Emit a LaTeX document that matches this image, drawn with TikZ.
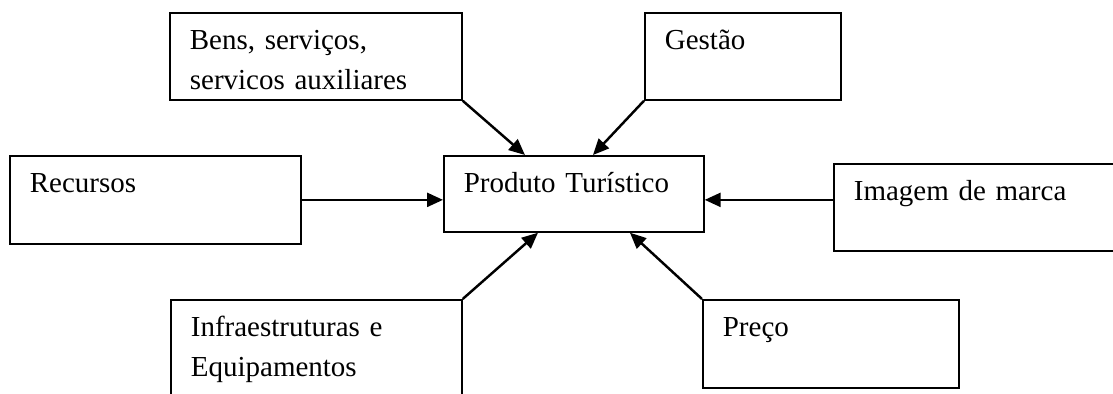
\documentclass[tikz,border=0pt]{standalone}
\usepackage{fontspec}
\setmainfont{Liberation Serif}
\usetikzlibrary{arrows.meta,positioning}

\begin{document}
\begin{tikzpicture}[x=0.02cm,y=-0.02cm,
    caixa/.style={draw,line width=1pt,rectangle,anchor=north west,align=left,
      inner xsep=0.4cm,inner ysep=0pt,text height=0.74cm,
      font=\fontsize{16.5pt}{22.7pt}\selectfont},
    seta/.style={line width=1.4pt,-{Triangle[length=0.32cm,width=0.28cm]}}]
  \clip (0,0) rectangle (1113,394);

  % 方框
  \node[caixa,text width=4.4cm,text depth=0.78cm] (produto) at (443,155) {Produto Turístico};
  \node[caixa,text width=5.04cm,text depth=1.0cm] (bens) at (169,12) {Bens, serviços,\\servicos auxiliares};
  \node[caixa,text width=3.12cm,text depth=1.0cm] (gestao) at (644,12) {Gestão};
  \node[caixa,text width=5.02cm,text depth=1.02cm] (recursos) at (9,155) {Recursos};
  \node[caixa,text width=5.04cm,text depth=1.0cm] (imagem) at (833,163) {Imagem de marca};
  \node[caixa,text width=5.02cm,text depth=1.48cm] (infra) at (170,299) {Infraestruturas e\\Equipamentos};
  \node[caixa,text width=4.32cm,text depth=1.02cm] (preco) at (702,299) {Preço};

  % 箭头
  \draw[seta] (bens.south east) -- ([xshift=1.64cm]produto.north west);
  \draw[seta] (gestao.south west) -- ([xshift=3.0cm]produto.north west);
  \draw[seta] (recursos.east) -- (recursos.east -| produto.west);
  \draw[seta] (imagem.west |- recursos.east) -- (produto.east |- recursos.east);
  \draw[seta] (infra.north east) -- ([xshift=1.9cm]produto.south west);
  \draw[seta] (preco.north west) -- ([xshift=3.74cm]produto.south west);
\end{tikzpicture}
\end{document}
